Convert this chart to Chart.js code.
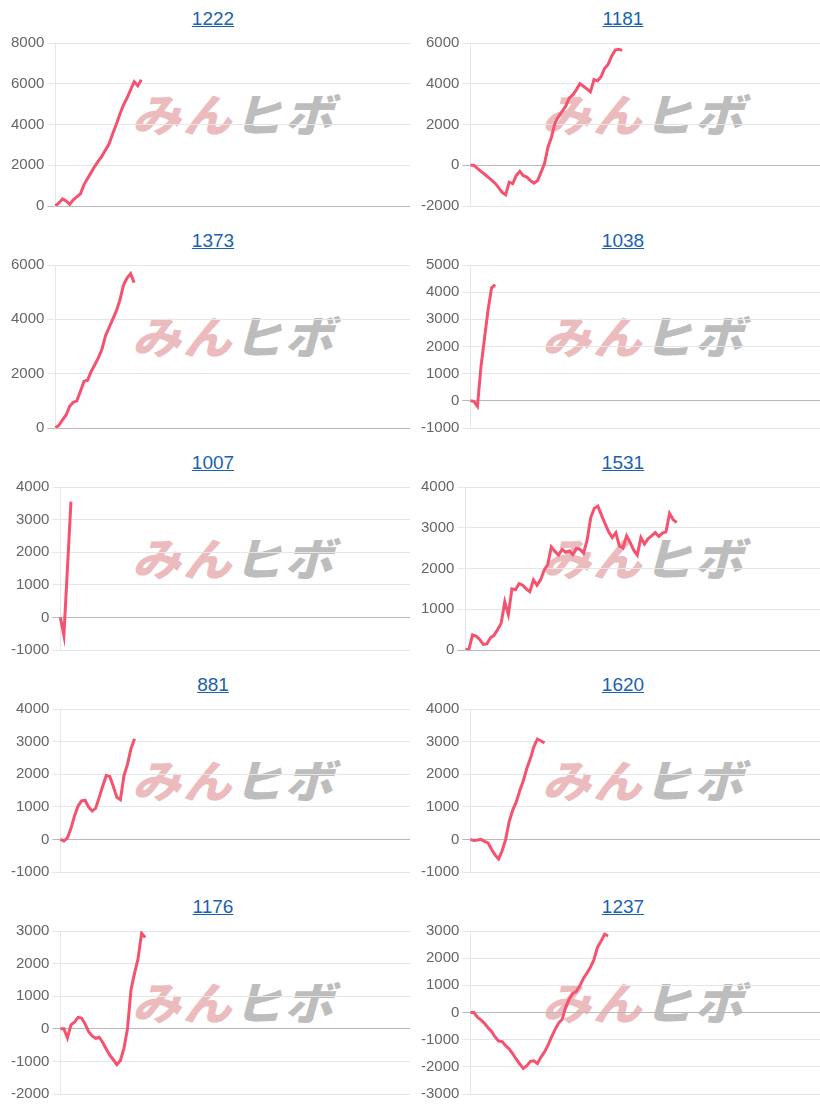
<!DOCTYPE html>
<html>
<head>
<meta charset="utf-8">
<script src="https://cdn.jsdelivr.net/npm/chart.js@4.4.1/dist/chart.umd.min.js"></script>
<style>
  body { margin: 0; background: #fff; font-family: "Liberation Sans", Arial, sans-serif; }
  #wrap { position: relative; width: 820px; height: 1110px; overflow: hidden; }
  .panel { position: absolute; width: 410px; height: 222px; overflow: hidden; }
  .title { position: absolute; left: 8px; width: 410px; top: 8px; text-align: center; font-size: 19px; }
  .title a { color: #1a62b0; text-decoration: underline; }
  .mark { position: absolute; left: 132px; top: 80px; font-family: "Noto Sans CJK JP", sans-serif;
          font-size: 45px; font-weight: 900; font-style: italic; letter-spacing: 2px; white-space: nowrap;
          transform: scaleX(1.08); transform-origin: left top; }
  .mark .a { color: #ebbbbd; }
  .mark .b { color: #bdbdbd; }
  .box { position: absolute; left: 0; top: 31px; width: 410px; height: 187px; }
</style>
</head>
<body>
<div id="wrap"></div>
<script>
// common x categories (not shown on the axis)
const xLabels = Array.from({ length: 100 }, (_, i) => String(i + 1));

const titles = ['1222', '1181', '1373', '1038', '1007', '1531', '881', '1620', '1176', '1237'];
const yMin = [0, -2000, 0, -1000, -1000, 0, -1000, -1000, -2000, -3000];
const yMax = [8000, 6000, 6000, 5000, 4000, 4000, 4000, 4000, 3000, 3000];
const yStep = [2000, 2000, 2000, 1000, 1000, 1000, 1000, 1000, 1000, 1000];

const s1222 = [0, 150, 350, 250, 80, 300, 450, 600, 1050, 1350, 1650, 1950, 2200, 2450, 2750, 3050,
  3550, 4000, 4500, 4950, 5300, 5700, 6100, 5900, 6200];
const s1181 = [0, 0, -150, -300, -430, -580, -730, -880, -1100, -1330, -1450, -830, -900, -500, -300,
  -510, -580, -750, -880, -760, -350, 100, 900, 1400, 2100, 2400, 2650, 2900, 3300, 3450, 3700, 4000,
  3880, 3750, 3600, 4200, 4150, 4350, 4750, 4950, 5350, 5650, 5690, 5640];
const s1373 = [0, 100, 300, 480, 800, 950, 1000, 1350, 1720, 1760, 2080, 2330, 2580, 2900, 3400, 3700,
  4000, 4300, 4700, 5250, 5520, 5680, 5350];
const s1038 = [0, -20, -200, 1250, 2300, 3340, 4150, 4280];
const s1007 = [0, -550, 1500, 3550];
const s1531 = [0, 20, 370, 340, 260, 140, 150, 300, 360, 500, 660, 1180, 870, 1500, 1480, 1630, 1590,
  1500, 1430, 1720, 1590, 1720, 1960, 2100, 2530, 2420, 2330, 2470, 2400, 2430, 2340, 2490, 2470, 2380,
  2700, 3250, 3480, 3530, 3310, 3100, 2900, 2760, 2880, 2550, 2500, 2800, 2640, 2450, 2330, 2760, 2600,
  2730, 2800, 2880, 2790, 2870, 2900, 3350, 3200, 3130];
const s881 = [0, -50, 50, 330, 720, 1020, 1180, 1200, 990, 870, 960, 1290, 1640, 1960, 1930, 1620, 1290,
  1220, 1950, 2300, 2780, 3090];
const s1620 = [0, -30, -20, 0, -60, -110, -300, -480, -600, -350, 0, 550, 900, 1150, 1500, 1800, 2180,
  2480, 2850, 3080, 3020, 2960];
const s1176 = [0, 0, -280, 120, 200, 350, 330, 150, -90, -220, -290, -260, -420, -620, -810, -950, -1100,
  -970, -600, 0, 1200, 1700, 2150, 2930, 2800];
const s1237 = [0, 0, -170, -270, -400, -560, -700, -900, -1050, -1070, -1220, -1340, -1520, -1720, -1900,
  -2060, -1960, -1800, -1780, -1880, -1640, -1450, -1200, -900, -620, -390, -250, 200, 500, 700, 780, 980,
  1250, 1450, 1660, 1950, 2400, 2620, 2880, 2820];

const series = [s1222, s1181, s1373, s1038, s1007, s1531, s881, s1620, s1176, s1237];

const lineColor = 'rgb(245, 82, 112)';
const wrap = document.getElementById('wrap');

titles.forEach((t, i) => {
  const panel = document.createElement('div');
  panel.className = 'panel';
  panel.style.left = (i % 2) * 410 + 'px';
  panel.style.top = Math.floor(i / 2) * 222 + 'px';
  panel.innerHTML =
    '<div class="mark"><span class="a">みん</span><span class="b">ヒボ</span></div>' +
    '<div class="title"><a href="#">' + t + '</a></div>' +
    '<div class="box"><canvas id="c' + i + '"></canvas></div>';
  wrap.appendChild(panel);

  new Chart(document.getElementById('c' + i), {
    type: 'line',
    data: {
      labels: xLabels,
      datasets: [{
        data: series[i],
        borderColor: lineColor,
        borderWidth: 3,
        pointRadius: 0,
        tension: 0,
        fill: false
      }]
    },
    options: {
      responsive: true,
      maintainAspectRatio: false,
      animation: false,
      plugins: { legend: { display: false }, tooltip: { enabled: false } },
      layout: { padding: { left: 8, right: 0, top: 0, bottom: 0 } },
      scales: {
        x: { display: false },
        y: {
          min: yMin[i],
          max: yMax[i],
          ticks: {
            stepSize: yStep[i],
            color: '#666',
            font: { size: 15 },
            callback: (v) => String(v)
          },
          grid: {
            color: (ctx) => (ctx.tick && ctx.tick.value === 0 ? '#b8b8b8' : '#e6e6e6'),
            tickLength: 8
          },
          border: { color: '#e6e6e6' }
        }
      }
    }
  });
});
</script>
</body>
</html>
